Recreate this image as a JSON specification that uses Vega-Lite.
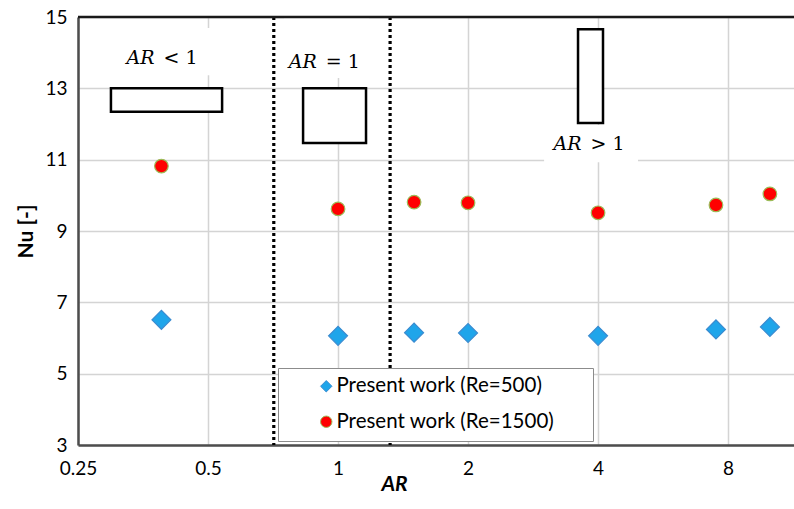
{
  "$schema": "https://vega.github.io/schema/vega-lite/v6.json",
  "width": 716,
  "height": 428,
  "autosize": {"type": "none"},
  "padding": {"left": 78, "top": 17, "right": 0, "bottom": 64},
  "background": "white",
  "config": {
    "view": {"stroke": null},
    "font": "Lato",
    "legend": {
      "orient": "none",
      "legendX": 200,
      "legendY": 351,
      "fillColor": "white",
      "strokeColor": "#8c8c8c",
      "strokeWidth": 1,
      "padding": 8,
      "labelFont": "Lato",
      "labelFontSize": 20.5,
      "labelColor": "#000000",
      "labelLimit": 0,
      "symbolSize": 130,
      "symbolOffset": 30,
      "labelOffset": 0,
      "rowPadding": 14.5,
      "symbolStrokeWidth": 1
    }
  },
  "datasets": {
    "points": [
      {"ar": 0.39, "nu": 6.51, "series": "Present work (Re=500)"},
      {"ar": 1, "nu": 6.06, "series": "Present work (Re=500)"},
      {"ar": 1.5, "nu": 6.15, "series": "Present work (Re=500)"},
      {"ar": 2, "nu": 6.14, "series": "Present work (Re=500)"},
      {"ar": 4, "nu": 6.06, "series": "Present work (Re=500)"},
      {"ar": 7.5, "nu": 6.24, "series": "Present work (Re=500)"},
      {"ar": 10, "nu": 6.31, "series": "Present work (Re=500)"},
      {"ar": 0.39, "nu": 10.82, "series": "Present work (Re=1500)"},
      {"ar": 1, "nu": 9.62, "series": "Present work (Re=1500)"},
      {"ar": 1.5, "nu": 9.81, "series": "Present work (Re=1500)"},
      {"ar": 2, "nu": 9.79, "series": "Present work (Re=1500)"},
      {"ar": 4, "nu": 9.51, "series": "Present work (Re=1500)"},
      {"ar": 7.5, "nu": 9.73, "series": "Present work (Re=1500)"},
      {"ar": 10, "nu": 10.04, "series": "Present work (Re=1500)"}
    ],
    "labelBoxes": [
      {"x1": 0.305, "x2": 0.53, "y1": 13.37, "y2": 14.69},
      {"x1": 0.75, "x2": 1.18, "y1": 13.29, "y2": 15},
      {"x1": 3.0, "x2": 4.95, "y1": 10.93, "y2": 11.97}
    ],
    "shapes": [
      {"x1": 0.298, "x2": 0.539, "y1": 12.34, "y2": 13},
      {"x1": 0.83, "x2": 1.161, "y1": 11.47, "y2": 13},
      {"x1": 3.595, "x2": 4.107, "y1": 12.03, "y2": 14.66}
    ],
    "dividers": [
      {"ar": 0.71},
      {"ar": 1.32}
    ],
    "labels": [
      {"x": 0.384, "y": 13.85, "ar": "AR", "rel": "< 1"},
      {"x": 0.912, "y": 13.74, "ar": "AR", "rel": "= 1"},
      {"x": 3.74, "y": 11.44, "ar": "AR", "rel": "> 1"}
    ]
  },
  "layer": [
    {
      "data": {"name": "labelBoxes"},
      "mark": {"type": "rect", "fill": "white", "strokeWidth": 0},
      "encoding": {
        "x": {
          "field": "x1", "type": "quantitative",
          "scale": {"type": "log", "base": 2, "domain": [0.25, 11.37], "nice": false, "zero": false},
          "axis": {
            "values": [0.25, 0.5, 1, 2, 4, 8],
            "format": "~g",
            "title": "AR",
            "titleFont": "Lato",
            "titleFontSize": 21,
            "titleFontWeight": "bold",
            "titleFontStyle": "italic",
            "titleColor": "#000000",
            "titleX": 316,
            "titleY": 45,
            "titleBaseline": "alphabetic",
            "labelFont": "Lato",
            "labelFontSize": 19,
            "labelColor": "#000000",
            "labelPadding": 14,
            "labelFlush": false,
            "labelOverlap": false,
            "ticks": false,
            "domainColor": "#4d4d4d",
            "domainWidth": 2.5,
            "gridColor": "#d4d4d4",
            "gridWidth": 1.5
          }
        },
        "x2": {"field": "x2"},
        "y": {
          "field": "y1", "type": "quantitative",
          "scale": {"domain": [3, 15], "nice": false, "zero": false},
          "axis": {
            "values": [3, 5, 7, 9, 11, 13, 15],
            "title": "Nu [-]",
            "titleFont": "Lato",
            "titleFontSize": 21,
            "titleFontWeight": "bold",
            "titleColor": "#000000",
            "titlePadding": 8,
            "labelFont": "Lato",
            "labelFontSize": 19,
            "labelColor": "#000000",
            "labelPadding": 11,
            "labelFlush": false,
            "ticks": false,
            "domainColor": "#4d4d4d",
            "domainWidth": 2.5,
            "gridColor": "#d4d4d4",
            "gridWidth": 1.5
          }
        },
        "y2": {"field": "y2"}
      }
    },
    {
      "data": {"name": "shapes"},
      "mark": {"type": "rect", "fill": "white", "stroke": "#000000", "strokeWidth": 2.5},
      "encoding": {
        "x": {"field": "x1", "type": "quantitative", "scale": {"type": "log", "base": 2, "domain": [0.25, 11.37], "nice": false, "zero": false}},
        "x2": {"field": "x2"},
        "y": {"field": "y1", "type": "quantitative", "scale": {"domain": [3, 15], "nice": false, "zero": false}},
        "y2": {"field": "y2"}
      }
    },
    {
      "data": {"name": "dividers"},
      "mark": {"type": "rule", "color": "#000000", "strokeWidth": 3.2, "strokeDash": [3, 3]},
      "encoding": {
        "x": {"field": "ar", "type": "quantitative", "scale": {"type": "log", "base": 2, "domain": [0.25, 11.37], "nice": false, "zero": false}}
      }
    },
    {
      "data": {"values": [{}]},
      "mark": {"type": "rule", "color": "#1a1a1a", "strokeWidth": 2.5},
      "encoding": {
        "y": {"datum": 15, "type": "quantitative", "scale": {"domain": [3, 15], "nice": false, "zero": false}}
      }
    },
    {
      "data": {"name": "points"},
      "transform": [{"filter": "datum.series === 'Present work (Re=500)'"}],
      "mark": {"type": "point", "filled": true, "opacity": 1, "strokeWidth": 1.2, "size": 360},
      "encoding": {
        "x": {"field": "ar", "type": "quantitative", "scale": {"type": "log", "base": 2, "domain": [0.25, 11.37], "nice": false, "zero": false}},
        "y": {"field": "nu", "type": "quantitative", "scale": {"domain": [3, 15], "nice": false, "zero": false}},
        "color": {
          "field": "series", "type": "nominal",
          "scale": {"domain": ["Present work (Re=500)", "Present work (Re=1500)"], "range": ["#1FA5EA", "#FF0000"]},
          "legend": {"title": null, "labelExpr": "datum.label + '\u2800\u2800'"}
        },
        "shape": {
          "field": "series", "type": "nominal",
          "scale": {"domain": ["Present work (Re=500)", "Present work (Re=1500)"], "range": ["diamond", "circle"]},
          "legend": {"title": null, "labelExpr": "datum.label + '\u2800\u2800'"}
        },
        "stroke": {
          "field": "series", "type": "nominal",
          "scale": {"domain": ["Present work (Re=500)", "Present work (Re=1500)"], "range": ["#3A8BD0", "#9CBB58"]},
          "legend": {"title": null, "labelExpr": "datum.label + '\u2800\u2800'"}
        }
      }
    },
    {
      "data": {"name": "points"},
      "transform": [{"filter": "datum.series === 'Present work (Re=1500)'"}],
      "mark": {"type": "point", "filled": true, "opacity": 1, "strokeWidth": 1.2, "size": 185},
      "encoding": {
        "x": {"field": "ar", "type": "quantitative", "scale": {"type": "log", "base": 2, "domain": [0.25, 11.37], "nice": false, "zero": false}},
        "y": {"field": "nu", "type": "quantitative", "scale": {"domain": [3, 15], "nice": false, "zero": false}},
        "color": {
          "field": "series", "type": "nominal",
          "scale": {"domain": ["Present work (Re=500)", "Present work (Re=1500)"], "range": ["#1FA5EA", "#FF0000"]},
          "legend": {"title": null, "labelExpr": "datum.label + '\u2800\u2800'"}
        },
        "shape": {
          "field": "series", "type": "nominal",
          "scale": {"domain": ["Present work (Re=500)", "Present work (Re=1500)"], "range": ["diamond", "circle"]},
          "legend": {"title": null, "labelExpr": "datum.label + '\u2800\u2800'"}
        },
        "stroke": {
          "field": "series", "type": "nominal",
          "scale": {"domain": ["Present work (Re=500)", "Present work (Re=1500)"], "range": ["#3A8BD0", "#9CBB58"]},
          "legend": {"title": null, "labelExpr": "datum.label + '\u2800\u2800'"}
        }
      }
    },
    {
      "data": {"name": "labels"},
      "mark": {"type": "text", "font": "DejaVu Serif", "fontStyle": "italic", "fontSize": 19, "align": "right", "baseline": "middle", "dx": -4, "color": "#000000"},
      "encoding": {
        "x": {"field": "x", "type": "quantitative", "scale": {"type": "log", "base": 2, "domain": [0.25, 11.37], "nice": false, "zero": false}},
        "y": {"field": "y", "type": "quantitative", "scale": {"domain": [3, 15], "nice": false, "zero": false}},
        "text": {"field": "ar"}
      }
    },
    {
      "data": {"name": "labels"},
      "mark": {"type": "text", "font": "DejaVu Serif", "fontSize": 19, "align": "left", "baseline": "middle", "dx": 5, "color": "#000000"},
      "encoding": {
        "x": {"field": "x", "type": "quantitative", "scale": {"type": "log", "base": 2, "domain": [0.25, 11.37], "nice": false, "zero": false}},
        "y": {"field": "y", "type": "quantitative", "scale": {"domain": [3, 15], "nice": false, "zero": false}},
        "text": {"field": "rel"}
      }
    }
  ]
}
